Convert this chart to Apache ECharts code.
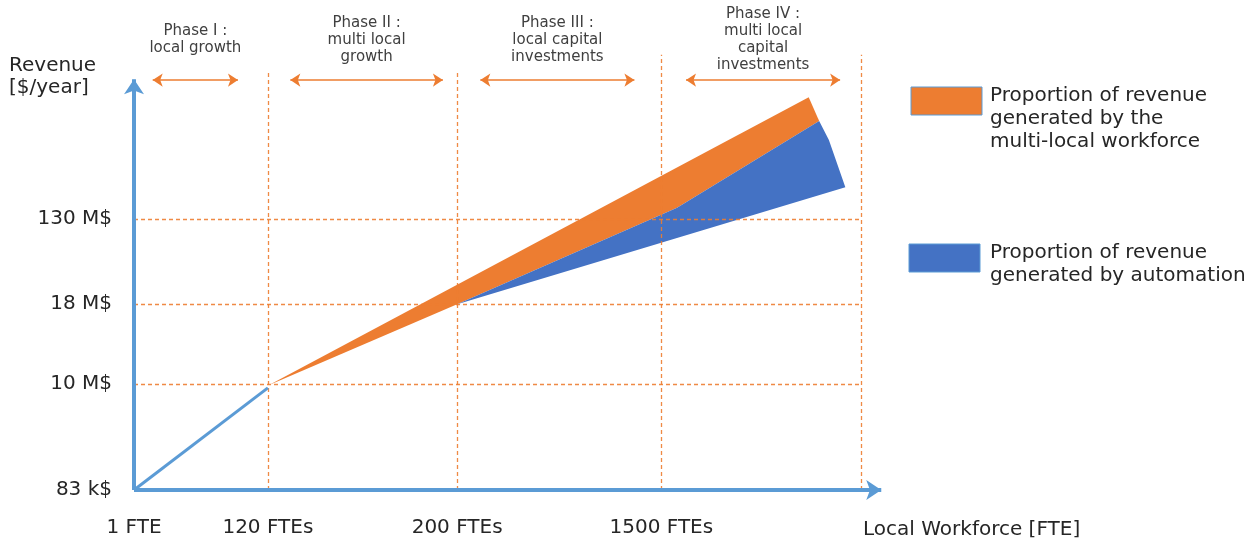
<!DOCTYPE html>
<html>
<head>
<meta charset="utf-8">
<script src="https://cdn.jsdelivr.net/npm/echarts@6/dist/echarts.min.js"></script>
<style>
html,body{margin:0;padding:0;background:#fff;}
#chart{width:1255px;height:542px;}
</style>
</head>
<body>
<div id="chart"></div>
<script>
// ---- data (conceptual units: x 0..100, y 0..100) ----
const xTickValues = [0, 17.9, 43.2, 70.5];
const xTickLabels = ['1 FTE', '120 FTEs', '200 FTEs', '1500 FTEs'];
const yTickValues = [0, 23.6, 41.3, 60.2];
const yTickLabels = ['83 k$', '10 M$', '18 M$', '130 M$'];
const phaseBounds = [17.9, 43.2, 70.5, 97.2];
const phaseBoundTops = [92.9, 93.3, 96.7, 96.7];
const phaseNames = [
  'Phase I :\nlocal growth',
  'Phase II :\nmulti local\ngrowth',
  'Phase III :\nlocal capital\ninvestments',
  'Phase IV :\nmulti local\ncapital\ninvestments'
];
const phaseStart = [2.5, 20.9, 46.3, 73.8];
const phaseEnd = [13.9, 41.3, 66.9, 94.4];
const phaseArrowLevel = 91.1;
const gridLineEnd = 97.3;
const localGrowth = [[0, 0], [17.9, 22.7]];
const workforceArea = [[18.0, 23.3], [90.2, 87.3], [91.6, 82.0], [72.6, 62.7], [43.2, 41.3]];
const automationArea = [[43.2, 41.3], [72.6, 62.7], [91.6, 82.0], [92.9, 77.8], [95.1, 67.3]];
const xAxisEnd = 99.9;
const yAxisEnd = 91.3;
const legendNames = ['Proportion of revenue\ngenerated by the\nmulti-local workforce', 'Proportion of revenue\ngenerated by automation'];

const ORANGE = '#ED7D31';
const BLUE = '#4472C4';
const AXIS = '#5B9BD5';
const TXT = '#262626';
const FONT = 'DejaVu Sans';

const chart = echarts.init(document.getElementById('chart'));

function polygonSeries(name, pts, color, z) {
  return {
    name: name, type: 'custom', z: z,
    data: pts,
    encode: {x: 0, y: 1},
    renderItem: function (params, api) {
      if (params.dataIndex !== 0) return null;
      return {
        type: 'polygon',
        shape: {points: pts.map(p => api.coord(p))},
        style: {fill: color}
      };
    },
    silent: true
  };
}

const dashStyle = {color: ORANGE, width: 1.3, type: [4, 3], opacity: 0.9};
const guideLines = [];
phaseBounds.forEach((x, i) => guideLines.push([{coord: [x, 0]}, {coord: [x, phaseBoundTops[i]]}]));
yTickValues.slice(1).forEach(y => guideLines.push([{coord: [0, y]}, {coord: [gridLineEnd, y]}]));

const phaseArrows = phaseStart.map((s, i) => [{coord: [s, phaseArrowLevel]}, {coord: [phaseEnd[i], phaseArrowLevel]}]);

const option = {
  animation: false,
  backgroundColor: '#fff',
  grid: {left: 134, right: 373, top: 40, bottom: 52},
  xAxis: {
    type: 'value', min: 0, max: 100,
    axisLine: {show: false}, axisTick: {show: false}, splitLine: {show: false},
    axisLabel: {
      customValues: xTickValues,
      margin: 28,
      fontFamily: FONT, fontSize: 20, color: TXT,
      formatter: v => { const i = xTickValues.indexOf(v); return i >= 0 ? xTickLabels[i] : ''; }
    }
  },
  yAxis: {
    type: 'value', min: 0, max: 100,
    axisLine: {show: false}, axisTick: {show: false}, splitLine: {show: false},
    axisLabel: {
      customValues: yTickValues,
      margin: 22,
      fontFamily: FONT, fontSize: 20, color: TXT,
      formatter: v => { const i = yTickValues.indexOf(v); return i >= 0 ? yTickLabels[i] : ''; }
    }
  },
  series: [
    polygonSeries('Proportion of revenue generated by the multi-local workforce', workforceArea, ORANGE, 3),
    polygonSeries('Proportion of revenue generated by automation', automationArea, BLUE, 4),
    {
      name: 'guides', type: 'line', data: [], z: 5, silent: true,
      markLine: {
        silent: true, symbol: ['none', 'none'], label: {show: false},
        lineStyle: dashStyle, data: guideLines, animation: false
      }
    },
    {
      name: 'phases', type: 'line', data: [], z: 6, silent: true,
      markLine: {
        silent: true, symbol: ['arrow', 'arrow'], symbolSize: 10, label: {show: false},
        lineStyle: {color: ORANGE, width: 1.5, type: 'solid'}, data: phaseArrows, animation: false
      }
    },
    {
      name: 'local growth', type: 'line', data: localGrowth, z: 7,
      symbol: 'none', lineStyle: {color: AXIS, width: 3}
    },
    {
      name: 'axes', type: 'line', data: [], z: 8, silent: true,
      markLine: {
        silent: true, symbol: ['none', 'arrow'], symbolSize: 15, label: {show: false},
        lineStyle: {color: AXIS, width: 4, type: 'solid'},
        data: [
          [{coord: [0, 0]}, {coord: [xAxisEnd, 0]}],
          [{coord: [0, 0]}, {coord: [0, yAxisEnd]}]
        ],
        animation: false
      }
    }
  ]
};
chart.setOption(option);

// ---- text overlays positioned through the chart's own scales ----
const graphics = [];
phaseNames.forEach((name, i) => {
  const p = chart.convertToPixel({gridIndex: 0}, [(phaseStart[i] + phaseEnd[i]) / 2, phaseArrowLevel]);
  graphics.push({
    type: 'text', x: p[0], y: p[1] - 40, z: 20,
    style: {text: name, fill: '#404040', font: '15px "' + FONT + '"', align: 'center', verticalAlign: 'middle', lineHeight: 17}
  });
});
graphics.push({
  type: 'text', x: 9, y: 77, z: 20,
  style: {text: 'Revenue\n[$/year]', fill: TXT, font: '20px "' + FONT + '"', align: 'left', verticalAlign: 'middle', lineHeight: 22}
});
const xEndPx = chart.convertToPixel({gridIndex: 0}, [phaseBounds[3], 0]);
graphics.push({
  type: 'text', x: xEndPx[0] + 2, y: xEndPx[1] + 40, z: 20,
  style: {text: 'Local Workforce [FTE]', fill: TXT, font: '20px "' + FONT + '"', align: 'left', verticalAlign: 'middle'}
});
// legend
const legendColors = [ORANGE, BLUE];
const legendTops = [87, 244];
const legendLefts = [911, 909];
legendNames.forEach((n, i) => {
  graphics.push({
    type: 'rect', z: 20,
    shape: {x: legendLefts[i], y: legendTops[i], width: 71, height: 28},
    style: {fill: legendColors[i], stroke: AXIS, lineWidth: 1}
  });
  graphics.push({
    type: 'text', x: 990, y: legendTops[i] - 3, z: 20,
    style: {text: n, fill: TXT, font: '20px "' + FONT + '"', align: 'left', verticalAlign: 'top', lineHeight: 23}
  });
});
chart.setOption({graphic: graphics});
</script>
</body>
</html>
